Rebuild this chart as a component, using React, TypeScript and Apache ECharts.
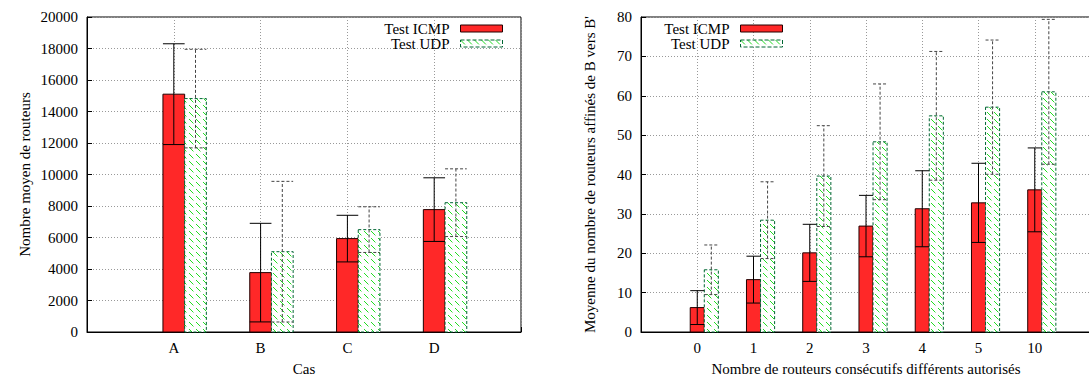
import React, { useEffect, useRef } from 'react';
import * as echarts from 'echarts';

// ---- Data (left chart: "Cas") ----
const casLabels = ['A', 'B', 'C', 'D'];
const casIcmpMean = [15100, 3770, 5930, 7770];
const casIcmpErr = [3200, 3130, 1480, 2020];
const casUdpMean = [14820, 5100, 6500, 8210];
const casUdpErr = [3130, 4465, 1450, 2150];

// ---- Data (right chart: routeurs consécutifs) ----
const routeLabels = ['0', '1', '2', '3', '4', '5', '10'];
const routeIcmpMean = [6.2, 13.3, 20.1, 26.9, 31.3, 32.8, 36.1];
const routeIcmpErr = [4.3, 5.95, 7.25, 7.8, 9.65, 10.05, 10.65];
const routeUdpMean = [15.8, 28.4, 39.6, 48.3, 54.9, 57.1, 61.0];
const routeUdpErr = [6.3, 9.75, 12.8, 14.7, 16.35, 17.05, 18.4];

const seriesNames = ['Test ICMP', 'Test UDP'];

const FONT = 'Liberation Serif';
const FS = 15;
const BOX = 0.25;
const RED = '#ff2828';

const GREEN_SVG =
  'data:image/svg+xml;utf8,' +
  encodeURIComponent(
    '<svg xmlns="http://www.w3.org/2000/svg" width="7" height="7" shape-rendering="crispEdges">' +
      '<rect width="7" height="7" fill="#ffffff"/>' +
      '<rect x="0" y="0" width="1" height="1" fill="#22dd22"/>' +
      '<rect x="1" y="1" width="1" height="1" fill="#22dd22"/>' +
      '<rect x="2" y="2" width="1" height="1" fill="#22dd22"/>' +
      '<rect x="3" y="3" width="1" height="1" fill="#22dd22"/>' +
      '<rect x="4" y="4" width="1" height="1" fill="#a0f0a0"/>' +
      '</svg>'
  );

export default function App() {
  const ref = useRef<HTMLDivElement>(null);
  useEffect(() => {
    if (!ref.current) return;
    const chart = echarts.init(ref.current, undefined, { renderer: 'svg' });
    const green = { image: GREEN_SVG, repeat: 'repeat', imageWidth: 7, imageHeight: 7 } as any;

    const barStyles = [
      { fill: RED, stroke: '#200', lineWidth: 1 },
      { fill: green, stroke: '#063', lineWidth: 1, lineDash: [3, 2] },
    ];
    const errStyles = [
      { stroke: '#000', lineWidth: 1 },
      { stroke: '#444', lineWidth: 1, lineDash: [3, 2] },
    ];

    const barSeries = (name: string, k: number, means: number[], gi: number) => ({
      type: 'custom',
      name,
      xAxisIndex: gi,
      yAxisIndex: gi,
      data: means.map((m, i) => [i, m]),
      itemStyle: { color: k === 0 ? RED : '#22dd22' },
      renderItem: (params: any, api: any) => {
        const xv = api.value(0);
        const yv = api.value(1);
        const top = api.coord([xv, yv]);
        const base = api.coord([xv, 0]);
        const w = api.size([1, 0])[0] * BOX;
        const x0 = top[0] - w / 2 + k * w;
        return {
          type: 'rect',
          shape: { x: x0, y: top[1], width: w, height: base[1] - top[1] },
          style: barStyles[k],
        };
      },
      z: 2,
    });

    const errSeries = (k: number, means: number[], errs: number[], gi: number) => ({
      type: 'custom',
      name: 'err' + k + '_' + gi,
      xAxisIndex: gi,
      yAxisIndex: gi,
      data: means.map((m, i) => [i, m - errs[i], m + errs[i]]),
      renderItem: (params: any, api: any) => {
        const xv = api.value(0);
        const lo = api.coord([xv, api.value(1)]);
        const hi = api.coord([xv, api.value(2)]);
        const w = api.size([1, 0])[0] * BOX;
        const cx = lo[0] + k * w;
        const st = errStyles[k];
        return {
          type: 'group',
          children: [
            { type: 'line', shape: { x1: cx, y1: lo[1], x2: cx, y2: hi[1] }, style: st },
            { type: 'line', shape: { x1: cx - w / 2, y1: lo[1], x2: cx + w / 2, y2: lo[1] }, style: st },
            { type: 'line', shape: { x1: cx - w / 2, y1: hi[1], x2: cx + w / 2, y2: hi[1] }, style: st },
          ],
        };
      },
      z: 3,
    });

    const gridLine = { show: true, lineStyle: { color: '#999', type: [1, 2] as any, width: 1 } };
    const textBase = { fontFamily: FONT, fontSize: FS, color: '#000' };

    const xAxis = (gi: number, labels: string[], name: string) => ({
      type: 'value',
      gridIndex: gi,
      min: -1,
      max: labels.length,
      interval: 1,
      name,
      nameLocation: 'middle',
      nameGap: 29,
      nameTextStyle: { ...textBase },
      axisLine: { show: true, onZero: false, lineStyle: { color: '#000', width: 1 } },
      axisTick: { show: true, inside: true, length: 5, lineStyle: { color: '#000' } },
      axisLabel: {
        ...textBase,
        margin: 8,
        formatter: (v: number) => (v >= 0 && v < labels.length ? labels[v] : ''),
      },
      splitLine: gridLine,
    });

    const yAxis = (gi: number, max: number, interval: number, name: string, gap: number) => ({
      type: 'value',
      gridIndex: gi,
      min: 0,
      max,
      interval,
      name,
      nameLocation: 'middle',
      nameRotate: 90,
      nameGap: gap,
      nameTextStyle: { ...textBase },
      axisLine: { show: true, onZero: false, lineStyle: { color: '#000', width: 1 } },
      axisTick: { show: true, inside: true, length: 5, lineStyle: { color: '#000' } },
      axisLabel: { ...textBase, margin: 9, formatter: (v: number) => String(v) },
      splitLine: gridLine,
    });

    const legendItems = [
      { name: seriesNames[0], icon: 'rect', itemStyle: { color: RED, borderColor: '#200', borderWidth: 1 } },
      { name: seriesNames[1], icon: 'rect', itemStyle: { color: green, borderColor: '#063', borderWidth: 1, borderType: 'dashed' } },
    ];
    const legendBase = {
      orient: 'vertical',
      align: 'right',
      itemWidth: 42,
      itemHeight: 7,
      itemGap: 0,
      padding: 0,
      selectedMode: false,
      formatter: (n: string) => '{t|' + n + '}',
      textStyle: {
        ...textBase,
        lineHeight: 14,
        rich: { t: { fontFamily: FONT, fontSize: FS, color: '#000', lineHeight: 14, padding: [0, 6, 0, 0] } },
      },
      data: legendItems,
    };

    chart.setOption({
      animation: false,
      grid: [
        { left: 87, top: 17, width: 434, height: 315, outerBoundsMode: 'none', containLabel: false, show: true, borderColor: '#000', borderWidth: 1, backgroundColor: 'transparent' },
        { left: 641, top: 17, width: 450, height: 315, outerBoundsMode: 'none', containLabel: false, show: true, borderColor: '#000', borderWidth: 1, backgroundColor: 'transparent' },
      ],
      legend: [
        { ...legendBase, right: 586, top: 21 },
        { ...legendBase, right: 306, top: 21 },
      ],
      xAxis: [xAxis(0, casLabels, 'Cas'), xAxis(1, routeLabels, 'Nombre de routeurs consécutifs différents autorisés')],
      yAxis: [
        yAxis(0, 20000, 2000, 'Nombre moyen de routeurs', 55),
        yAxis(1, 80, 10, "Moyenne du nombre de routeurs affinés de B vers B'", 44),
      ],
      series: [
        barSeries(seriesNames[0], 0, casIcmpMean, 0),
        errSeries(0, casIcmpMean, casIcmpErr, 0),
        barSeries(seriesNames[1], 1, casUdpMean, 0),
        errSeries(1, casUdpMean, casUdpErr, 0),
        barSeries(seriesNames[0], 0, routeIcmpMean, 1),
        errSeries(0, routeIcmpMean, routeIcmpErr, 1),
        barSeries(seriesNames[1], 1, routeUdpMean, 1),
        errSeries(1, routeUdpMean, routeUdpErr, 1),
      ],
    } as any);
    return () => chart.dispose();
  }, []);
  return (
    <div
      ref={ref}
      style={{ position: 'absolute', left: 0, top: 0, width: 1089, height: 377, background: '#fff' }}
    />
  );
}
